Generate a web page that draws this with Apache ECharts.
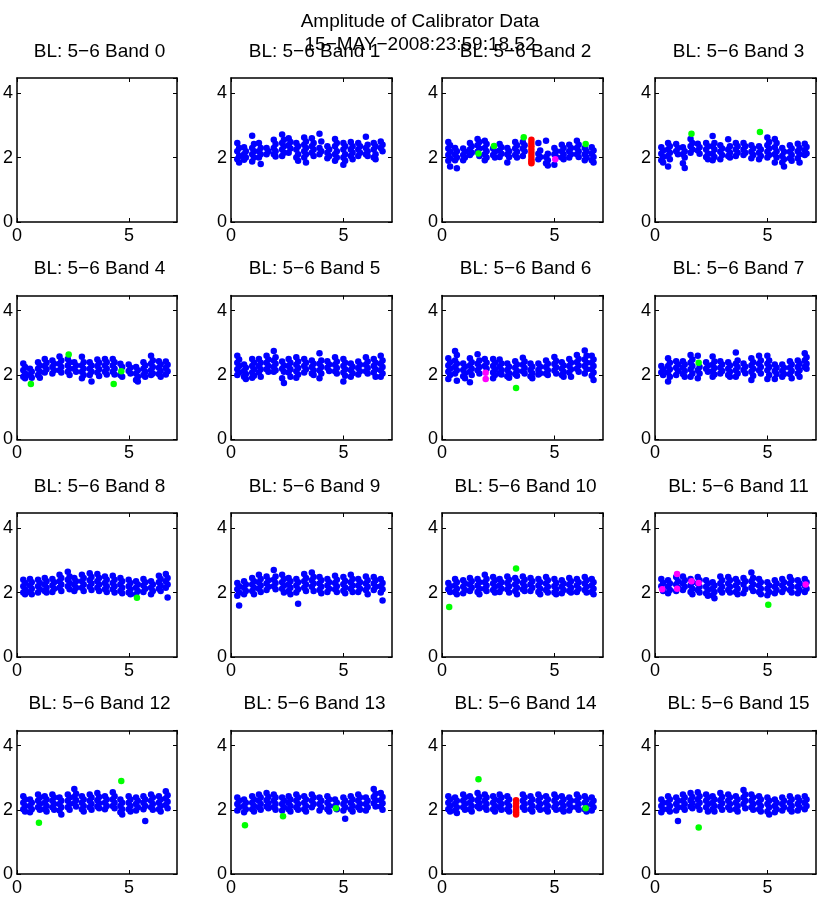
<!DOCTYPE html>
<html>
<head>
<meta charset="utf-8">
<title>Amplitude of Calibrator Data</title>
<script src="https://cdn.jsdelivr.net/npm/echarts@6/dist/echarts.min.js"></script>
<style>
  html, body { margin: 0; padding: 0; background: #fff; }
  #chart { width: 830px; height: 897px; }
</style>
</head>
<body>
<div id="chart"></div>
<script>
// scan times (hours) shared by every band
var scanX = [0.32, 0.62, 0.98, 1.28, 1.62, 1.94, 2.31, 2.60, 2.94, 3.29,
             3.63, 3.97, 4.32, 4.66, 5.03, 5.36, 5.69, 6.03, 6.38, 6.69];
var xTicks = [0, 5];
var yTicks = [0, 2, 4];
var mainTitle = 'Amplitude of Calibrator Data';
var subTitle = '15\u2212MAY\u22122008:23:59:18.52';

// amplitudes per scan, one list per band (band 0 has no data)
var band0 = [];
var band1 = [[2.45,2.3,2.2,2.05,1.95,1.85],[2.32,2.2,2.1,2.0,1.93],[2.68,2.42,2.3,2.2,2.1,2.0,1.88],[2.45,2.3,2.2,2.1,2.0,1.8],[2.3,2.2,2.1],
  [2.55,2.42,2.3,2.2,2.1,2.03],[2.72,2.55,2.45,2.35,2.25,2.15,2.05],[2.6,2.48,2.38,2.28,2.15],[2.45,2.35,2.25,2.1,2.0,1.9],[2.62,2.5,2.4,2.3,2.2,2.1,2.0,1.85],
  [2.6,2.45,2.35,2.25,2.15,2.05],[2.74,2.5,2.3,2.2,2.1],[2.35,2.25,2.15,2.05,1.98],[2.58,2.45,2.35,2.2,2.1,2.0,1.9],[2.45,2.35,2.25,2.1,2.0,1.9,1.78],
  [2.48,2.35,2.25,2.15,2.05,1.95],[2.45,2.35,2.25,2.15,2.05],[2.65,2.4,2.3,2.2,2.1,2.05],[2.45,2.35,2.25,2.1,2.0,1.95],[2.5,2.4,2.3,2.2]];
var band2 = [[2.48,2.38,2.28,2.18,2.08,1.98,1.9,1.72],[2.3,2.2,2.1,2.0,1.92,1.67],[2.28,2.18,2.08,2.0,1.92],[2.45,2.35,2.25,2.15,2.08],[2.58,2.48,2.38,2.28,2.18,2.05],
  [2.52,2.42,2.3,2.2,2.1,2.0,1.92],[2.28,2.18,2.08,2.0],[2.42,2.32,2.22,2.12,2.02],[2.3,2.2,2.1,2.02,1.85],[2.48,2.38,2.28,2.18,2.08,2.0],
  [2.48,2.38,2.28,2.2,2.05],[],[2.45,2.22,2.12,2.02,1.95],[2.52,2.12,2.02,1.92,1.82,1.75],[2.3,2.2,2.1,2.02,1.78],
  [2.4,2.3,2.2,2.1,2.0,1.95],[2.4,2.3,2.2,2.1,2.0],[2.52,2.4,2.3,2.2,2.1,2.02],[2.3,2.2,2.1,2.0,1.92],[2.32,2.22,2.12,2.02,1.92,1.85]];
var band3 = [[2.32,2.22,2.12,2.02,1.92,1.85],[2.45,2.35,2.25,2.15,2.05,1.95,1.72],[2.42,2.3,2.2,2.1],[2.32,2.2,2.1,2.0,1.82,1.68],[2.58,2.45,2.35,2.25,2.15],
  [2.43,2.32,2.22,2.12],[2.45,2.35,2.25,2.12,2.02,1.95],[2.67,2.45,2.35,2.25,2.12,2.02,1.92],[2.38,2.28,2.18,2.08,1.95],[2.57,2.35,2.25,2.15,2.05,2.0],
  [2.45,2.35,2.25,2.15,2.05],[2.45,2.35,2.25,2.15,2.08],[2.38,2.28,2.18,2.08,1.98],[2.35,2.25,2.15,2.05,1.95],[2.62,2.48,2.38,2.28,2.18,2.08,2.0],
  [2.58,2.45,2.32,2.2,2.1,2.0,1.85],[2.3,2.18,2.05,1.95,1.85,1.72],[2.38,2.28,2.18,2.08,1.98,1.9],[2.43,2.3,2.2,2.1,1.98,1.85],[2.43,2.33,2.23,2.13,2.08]];
var band4 = [[2.36,2.25,2.15,2.05,1.95,1.9],[2.2,2.1,2.0,1.92],[2.4,2.3,2.2,2.1,2.0,1.92],[2.5,2.38,2.28,2.18,2.08],[2.45,2.35,2.25,2.15,2.05],
  [2.58,2.45,2.35,2.25,2.15,2.08],[2.5,2.4,2.3,2.2,2.1,2.0],[2.4,2.3,2.2,2.1],[2.57,2.4,2.3,2.2,2.1,2.0,1.9],[2.4,2.3,2.2,2.1,2.0,1.8],
  [2.48,2.38,2.28,2.18,2.08,1.97],[2.5,2.4,2.3,2.2,2.1,2.02],[2.5,2.4,2.3,2.2,2.1,2.02],[2.35,2.25,2.0,1.95],[2.33,2.23,2.13,2.05],
  [2.25,2.15,2.05,1.95,1.85,1.8],[2.4,2.3,2.2,2.1,2.0,1.95],[2.6,2.45,2.35,2.25,2.15,2.05,2.0],[2.43,2.33,2.23,2.13,2.03,1.95],[2.42,2.32,2.22,2.12,2.02]];
var band5 = [[2.6,2.48,2.38,2.28,2.18,2.08,2.0],[2.33,2.23,2.13,2.03,1.95,1.88],[2.5,2.38,2.28,2.18,2.08,1.98,1.92],[2.5,2.38,2.28,2.18,2.08,1.95],[2.6,2.48,2.38,2.28,2.18,2.1],
  [2.75,2.55,2.45,2.35,2.25,2.15,2.1],[2.42,2.3,2.2,2.1,1.9,1.75],[2.5,2.38,2.28,2.18,2.08,1.95],[2.55,2.42,2.32,2.22,2.12,2.02,1.92],[2.5,2.38,2.28,2.18,2.08],
  [2.45,2.35,2.25,2.15,2.05,2.0],[2.68,2.45,2.35,2.25,2.15,2.05,1.9],[2.43,2.33,2.23,2.13],[2.55,2.42,2.32,2.22,2.12,2.05],[2.5,2.38,2.28,2.18,2.08,1.98,1.8],
  [2.36,2.26,2.16,2.06,1.95],[2.42,2.32,2.22,2.12,2.02],[2.55,2.42,2.32,2.22,2.12,2.05],[2.5,2.38,2.28,2.18,2.08,1.95],[2.6,2.45,2.35,2.25,2.15,2.05,1.95]];
var band6 = [[2.52,2.4,2.3,2.2,2.1,2.0,1.88],[2.75,2.62,2.45,2.35,2.25,2.15,2.05,1.82],[2.36,2.26,2.16,2.06,1.96,1.9],[2.52,2.4,2.3,2.2,2.1,2.0,1.78],[2.65,2.45,2.35,2.25,2.15,2.05],
  [2.5,2.38,2.28,2.2],[2.5,2.38,2.28,2.18,2.08,2.0,1.9],[2.48,2.36,2.26,2.16,2.06,2.02],[2.36,2.26,2.16,2.06,1.96,1.92],[2.43,2.33,2.23,2.13,2.03,1.98],
  [2.54,2.42,2.32,2.22,2.12,2.05],[2.36,2.26,2.16,2.06,1.96,1.9],[2.36,2.26,2.16,2.06,2.02],[2.45,2.35,2.25,2.15,2.05,2.0],[2.56,2.44,2.34,2.24,2.14,2.05],
  [2.4,2.3,2.2,2.1,2.0,1.95],[2.5,2.38,2.28,2.18,2.08,1.95],[2.62,2.5,2.4,2.3,2.2,2.1],[2.76,2.6,2.48,2.38,2.28,2.18,2.05],[2.6,2.48,2.38,2.28,2.18,2.08,1.98,1.85]];
var band7 = [[2.28,2.18,2.08,2.0],[2.52,2.38,2.28,2.18,2.08,1.95,1.8],[2.43,2.33,2.23,2.13,2.0],[2.43,2.33,2.23,2.13,2.03,1.95],[2.62,2.48,2.38,2.28,2.18,2.05,1.95],
  [2.6,2.25,2.15,2.05,1.9],[2.4,2.3,2.2,2.1],[2.58,2.42,2.32,2.22,2.12,2.02,1.95],[2.43,2.33,2.23,2.13,2.05],[2.4,2.3,2.2,2.1,2.0,1.95],
  [2.7,2.45,2.35,2.25,2.15,2.05,1.95],[2.36,2.26,2.16,2.06],[2.52,2.4,2.3,2.2,2.1,1.98,1.85],[2.6,2.45,2.35,2.25,2.15,2.05],[2.6,2.45,2.35,2.25,2.15,2.0,1.88],
  [2.33,2.23,2.13,2.03,1.88],[2.33,2.23,2.13,2.03,1.95],[2.43,2.33,2.23,2.13,2.03,1.9],[2.45,2.35,2.25,2.15,2.05,1.95],[2.68,2.55,2.45,2.35,2.25,2.2]];
var band8 = [[2.4,2.3,2.2,2.1,2.0,1.95],[2.42,2.32,2.22,2.12,2.02,1.95],[2.4,2.3,2.2,2.1,2.0],[2.45,2.35,2.25,2.15,2.05,2.0],[2.42,2.32,2.22,2.12,2.02],
  [2.55,2.45,2.35,2.25,2.15,2.05],[2.65,2.5,2.4,2.3,2.2,2.1],[2.45,2.35,2.25,2.15,2.05],[2.55,2.45,2.35,2.25,2.15,2.05],[2.6,2.48,2.38,2.28,2.18,2.08],
  [2.58,2.45,2.35,2.25,2.15,2.05],[2.5,2.4,2.3,2.2,2.1,2.02],[2.52,2.4,2.3,2.2,2.1,2.0],[2.45,2.35,2.25,2.15,2.05,1.98],[2.4,2.3,2.2,2.1,2.0,1.95],
  [2.35,2.25,2.15,2.05,1.95],[2.42,2.32,2.22,2.12,2.02],[2.35,2.25,2.15,2.05,1.95],[2.52,2.42,2.32,2.22,2.12,2.05],[2.58,2.45,2.35,2.25,2.15,1.85]];
var band9 = [[2.3,2.2,2.1,2.0,1.9,1.6],[2.35,2.25,2.15,2.05,1.95],[2.45,2.35,2.25,2.15,2.05,1.95],[2.55,2.42,2.32,2.22,2.12,2.02],[2.5,2.38,2.28,2.18,2.08],
  [2.7,2.5,2.4,2.3,2.2,2.1],[2.55,2.42,2.32,2.22,2.12,2.0],[2.45,2.35,2.25,2.15,2.05,1.95],[2.42,2.32,2.22,2.1,2.0,1.65],[2.58,2.45,2.35,2.25,2.15,2.05],
  [2.62,2.48,2.38,2.28,2.18,2.05],[2.48,2.38,2.28,2.18,2.08,1.98],[2.42,2.32,2.22,2.12,2.02],[2.52,2.4,2.3,2.2,2.1,2.02],[2.48,2.36,2.26,2.16,2.06,1.98],
  [2.55,2.42,2.32,2.22,2.12,2.02],[2.42,2.32,2.22,2.12,2.02],[2.5,2.38,2.28,2.18,2.08,1.95],[2.48,2.38,2.28,2.18,2.08],[2.42,2.3,2.2,2.1,2.0,1.75]];
var band10 = [[2.3,2.2,2.1,2.02],[2.42,2.32,2.22,2.12,2.02,1.95],[2.38,2.28,2.18,2.08,1.98],[2.45,2.35,2.25,2.15,2.05],[2.42,2.32,2.22,2.12,2.02,1.95],
  [2.55,2.42,2.32,2.22,2.12,2.05],[2.48,2.38,2.28,2.18,2.08,2.0],[2.42,2.32,2.22,2.12,2.02],[2.5,2.4,2.3,2.2,2.1,2.0],[2.45,2.35,2.25,2.15,2.05,1.95],
  [2.5,2.4,2.3,2.2,2.1,2.05],[2.45,2.35,2.25,2.15,2.05],[2.42,2.32,2.22,2.12,2.02,1.95],[2.48,2.38,2.28,2.18,2.08,2.0],[2.42,2.3,2.2,2.1,2.0,1.95],
  [2.38,2.28,2.18,2.08,1.98],[2.45,2.35,2.25,2.15,2.05,2.0],[2.42,2.32,2.22,2.12,2.02],[2.48,2.38,2.28,2.18,2.08,2.0],[2.42,2.32,2.22,2.12,2.02,1.95]];
var band11 = [[2.42,2.3,2.2,2.05],[2.38,2.28,2.18,2.08,1.98],[2.48,2.35,2.25,2.15,2.05],[2.5,2.38,2.28,2.18,2.08],[2.42,2.32,2.22,2.12,2.02,1.95],
  [2.48,2.38,2.28,2.18,2.08,2.0],[2.38,2.28,2.18,2.08,1.98,1.9],[2.32,2.22,2.12,2.02,1.92,1.82],[2.5,2.38,2.28,2.18,2.08,2.0],[2.48,2.38,2.28,2.18,2.08,2.0],
  [2.42,2.32,2.22,2.12,2.02,1.95],[2.45,2.35,2.25,2.1,1.98],[2.62,2.45,2.35,2.25,2.15,2.05],[2.42,2.32,2.22,2.12,2.02,1.95],[2.32,2.22,2.12,2.02,1.92],
  [2.38,2.28,2.18,2.08,1.98],[2.42,2.32,2.22,2.12,2.02],[2.48,2.38,2.28,2.18,2.08,2.0],[2.38,2.28,2.18,2.08,1.98],[2.42,2.32,2.22,2.12,2.02]];
var band12 = [[2.42,2.32,2.22,2.12,2.02,1.95],[2.32,2.22,2.12,2.02,1.92],[2.48,2.38,2.28,2.18,2.08,2.0],[2.42,2.32,2.22,2.12,2.02,1.95],[2.48,2.38,2.28,2.18,2.08,2.0],
  [2.38,2.28,2.18,2.08,1.98,1.85],[2.48,2.38,2.28,2.18,2.08,2.0],[2.65,2.5,2.4,2.3,2.2,2.1],[2.42,2.32,2.22,2.12,2.02,1.95],[2.48,2.38,2.28,2.18,2.08,2.0],
  [2.52,2.4,2.3,2.2,2.1,2.05],[2.42,2.32,2.22,2.12,2.02],[2.55,2.42,2.32,2.22,2.12,2.05],[2.32,2.22,2.12,2.02,1.92,1.85],[2.42,2.32,2.22,2.12,2.02,1.95],
  [2.38,2.28,2.18,2.08,1.98],[2.42,2.32,2.22,2.12,2.02,1.65],[2.48,2.38,2.28,2.18,2.08,2.0],[2.42,2.32,2.22,2.12,2.02,1.95],[2.58,2.45,2.35,2.25,2.15,2.05]];
var band13 = [[2.38,2.28,2.18,2.08,1.98],[2.32,2.22,2.12,2.02,1.92],[2.42,2.32,2.22,2.12,2.02,1.95],[2.48,2.38,2.28,2.18,2.08,2.0],[2.52,2.4,2.3,2.2,2.1,2.05],
  [2.48,2.38,2.28,2.18,2.08,2.0],[2.38,2.28,2.18,2.08,1.98],[2.42,2.32,2.22,2.12,2.02,1.95],[2.48,2.38,2.28,2.18,2.08,2.0],[2.42,2.32,2.22,2.12,2.02,1.95],
  [2.48,2.38,2.28,2.18,2.08],[2.38,2.28,2.18,2.08,1.98],[2.42,2.32,2.22,2.12,2.02,1.95],[2.32,2.22,2.12,2.02],[2.38,2.28,2.18,2.08,1.98,1.72],
  [2.42,2.32,2.22,2.12,2.02,1.95],[2.48,2.38,2.28,2.18,2.08,2.0],[2.38,2.28,2.18,2.08,1.98],[2.65,2.5,2.4,2.3,2.2,2.1],[2.52,2.4,2.3,2.2,2.1,2.0]];
var band14 = [[2.42,2.32,2.22,2.12,2.02,1.95],[2.38,2.28,2.18,2.08,1.98,1.9],[2.48,2.38,2.28,2.18,2.08,2.0],[2.42,2.32,2.22,2.12,2.02,1.95],[2.52,2.4,2.3,2.2,2.1,2.05],
  [2.48,2.38,2.28,2.18,2.08,2.0],[2.42,2.32,2.22,2.12,2.02,1.95],[2.48,2.38,2.28,2.18,2.08,2.0],[2.42,2.32,2.22,2.12,2.02,1.95],[],
  [2.48,2.38,2.28,2.18,2.08,2.0],[2.42,2.32,2.22,2.12,2.02,1.95],[2.48,2.38,2.28,2.18,2.08,2.0],[2.42,2.32,2.22,2.12,2.02,1.95],[2.48,2.38,2.28,2.18,2.08,2.0],
  [2.42,2.32,2.22,2.12,2.02,1.95],[2.38,2.28,2.18,2.08,1.98],[2.48,2.38,2.28,2.18,2.08,2.0],[2.42,2.32,2.22,2.12,2.02,1.95],[2.38,2.28,2.18,2.08,1.98]];
var band15 = [[2.32,2.22,2.12,2.02,1.92],[2.42,2.32,2.22,2.12,2.02,1.95],[2.38,2.28,2.18,2.08,1.98,1.65],[2.48,2.38,2.28,2.18,2.08,2.0],[2.52,2.4,2.3,2.2,2.1,2.05],
  [2.55,2.42,2.32,2.22,2.12,2.0],[2.48,2.38,2.28,2.18,2.08,1.95],[2.42,2.32,2.22,2.12,2.02,1.95],[2.52,2.4,2.3,2.2,2.1,2.0],[2.48,2.38,2.28,2.18,2.08,2.0],
  [2.42,2.32,2.22,2.12,2.02,1.95],[2.62,2.48,2.38,2.28,2.18,2.05],[2.48,2.38,2.28,2.18,2.08,2.0],[2.42,2.32,2.22,2.12,2.02,1.95],[2.38,2.28,2.18,2.08,1.95,1.85],
  [2.32,2.22,2.12,2.02,1.92],[2.38,2.28,2.18,2.08,1.98],[2.42,2.32,2.22,2.12,2.02,1.95],[2.38,2.28,2.18,2.08,1.98],[2.42,2.32,2.22,2.12,2.02]];
var bands = [band0, band1, band2, band3, band4, band5, band6, band7,
             band8, band9, band10, band11, band12, band13, band14, band15];

// flagged points: [band, scan index, amplitude]
var greenPoints = [[2,4,2.13],[2,6,2.36],[2,10,2.63],[2,18,2.42],[3,4,2.74],[3,13,2.79],
  [4,1,1.72],[4,6,2.64],[4,12,1.72],[4,13,2.12],[6,9,1.6],[7,5,2.38],
  [8,15,1.84],[10,0,1.55],[10,9,2.75],[11,14,1.62],[12,2,1.6],[12,13,2.9],
  [13,1,1.52],[13,6,1.8],[13,13,2.05],[14,4,2.95],[14,18,2.05],[15,5,1.45]];
var redPoints = [[2,11,2.55],[2,11,2.45],[2,11,2.35],[2,11,2.25],[2,11,2.15],[2,11,2.05],[2,11,1.95],[2,11,1.88],[2,11,1.82],
  [14,9,2.3],[14,9,2.2],[14,9,2.1],[14,9,2.0],[14,9,1.92],[14,9,1.85]];
var magentaPoints = [[2,14,1.95],[6,5,2.07],[6,5,1.88],
  [11,0,2.1],[11,2,2.58],[11,2,2.12],[11,4,2.35],[11,5,2.3],[11,19,2.25]];

var subOffset = [-0.04, 0.04];

var chart = echarts.init(document.getElementById('chart'));

var colLeft = [16, 231, 442, 655];
var rowTop = [78, 295.5, 513, 730.5];
var boxW = 161, boxH = 144;
var font = 'Liberation Sans, Arial, Helvetica, sans-serif';

var grids = [], xAxes = [], yAxes = [], series = [], titles = [];

titles.push({ text: mainTitle, left: 415, top: 7, textAlign: 'center',
  textStyle: { fontFamily: font, fontSize: 19, fontWeight: 'normal', color: '#000' } });
titles.push({ text: subTitle, left: 415, top: 30, textAlign: 'center',
  textStyle: { fontFamily: font, fontSize: 19, fontWeight: 'normal', color: '#000' } });

function axisBase(i) {
  return {
    gridIndex: i, type: 'value',
    axisLine: { show: true, onZero: false, lineStyle: { color: '#000', width: 1.5 } },
    axisTick: { show: true, inside: true, length: 4, lineStyle: { color: '#000', width: 1 } },
    splitLine: { show: false }
  };
}

for (var i = 0; i < 16; i++) {
  var r = Math.floor(i / 4), c = i % 4;
  grids.push({ left: colLeft[c], top: rowTop[r], width: boxW, height: boxH });
  titles.push({ text: 'BL: 5\u22126 Band ' + i, left: colLeft[c] + boxW / 2 - 2, top: rowTop[r] - 41,
    textAlign: 'center',
    textStyle: { fontFamily: font, fontSize: 19, fontWeight: 'normal', color: '#000' } });

  var xb = axisBase(i);
  xb.position = 'bottom'; xb.min = xTicks[0]; xb.max = 7.15; xb.interval = xTicks[1] - xTicks[0];
  xb.axisLabel = { show: true, showMaxLabel: false, margin: 5, fontFamily: font, fontSize: 18, color: '#000' };
  xAxes.push(xb);
  var xt = axisBase(i);
  xt.position = 'top'; xt.min = xTicks[0]; xt.max = 7.15; xt.interval = xTicks[1] - xTicks[0];
  xt.axisLabel = { show: false };
  xAxes.push(xt);

  var yl = axisBase(i);
  yl.position = 'left'; yl.min = yTicks[0]; yl.max = 4.47; yl.interval = yTicks[1] - yTicks[0];
  yl.axisLabel = { show: true, showMaxLabel: false, margin: 4, fontFamily: font, fontSize: 18, color: '#000' };
  yAxes.push(yl);
  var yr = axisBase(i);
  yr.position = 'right'; yr.min = yTicks[0]; yr.max = 4.47; yr.interval = yTicks[1] - yTicks[0];
  yr.axisLabel = { show: false };
  yAxes.push(yr);

  var pts = [];
  bands[i].forEach(function (col, ci) {
    col.forEach(function (v, k) { pts.push([scanX[ci] + subOffset[k % 2], v]); });
  });
  series.push({ type: 'scatter', xAxisIndex: 2 * i, yAxisIndex: 2 * i, data: pts,
    symbolSize: 6.5, itemStyle: { color: '#0000ff', opacity: 1 }, silent: true, z: 2 });

  [[magentaPoints, '#ff00ff'], [redPoints, '#ff0000'], [greenPoints, '#00ff00']].forEach(function (g) {
    var d = g[0].filter(function (p) { return p[0] === i; }).map(function (p) {
      return [scanX[p[1]], p[2]];
    });
    if (d.length) {
      series.push({ type: 'scatter', xAxisIndex: 2 * i, yAxisIndex: 2 * i, data: d,
        symbolSize: 6.5, itemStyle: { color: g[1], opacity: 1 }, silent: true, z: 3 });
    }
  });
}

chart.setOption({
  animation: false,
  backgroundColor: '#fff',
  title: titles,
  grid: grids,
  xAxis: xAxes,
  yAxis: yAxes,
  series: series
});
</script>
</body>
</html>
